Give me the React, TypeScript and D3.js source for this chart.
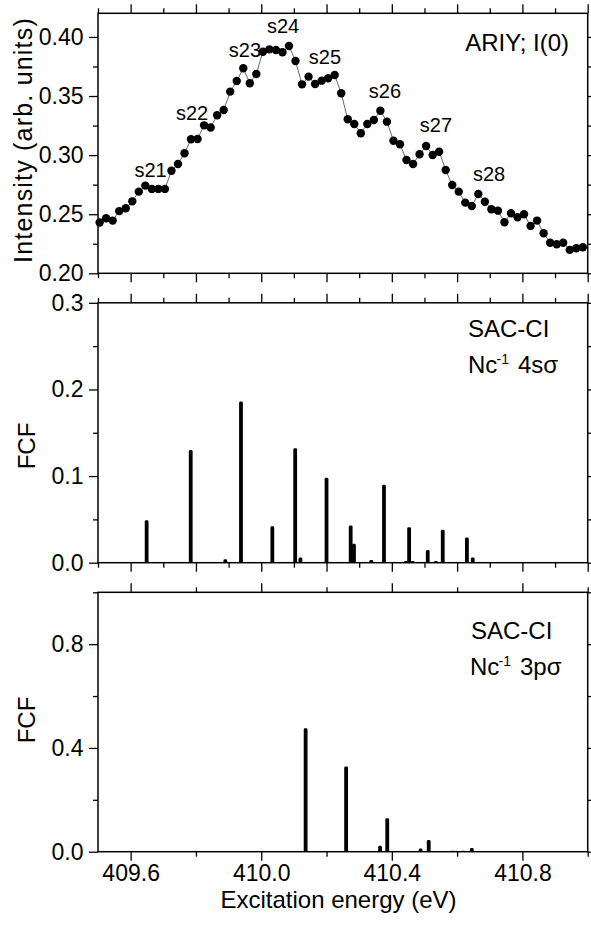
import React, { useEffect, useRef } from 'react';
import * as d3 from 'd3';

// ARIY; I(0) measured spectrum
const energies = [
  409.505, 409.525, 409.545, 409.565, 409.585, 409.605, 409.625, 409.645, 409.665, 409.685,
  409.705, 409.725, 409.745, 409.765, 409.785, 409.805, 409.825, 409.845, 409.865, 409.885,
  409.905, 409.925, 409.945, 409.965, 409.985, 410.005, 410.025, 410.045, 410.065, 410.085,
  410.105, 410.125, 410.145, 410.165, 410.185, 410.205, 410.225, 410.245, 410.265, 410.285,
  410.305, 410.325, 410.345, 410.365, 410.385, 410.405, 410.425, 410.445, 410.465, 410.485,
  410.505, 410.525, 410.545, 410.565, 410.585, 410.605, 410.625, 410.645, 410.665, 410.685,
  410.705, 410.725, 410.745, 410.765, 410.785, 410.805, 410.825, 410.845, 410.865, 410.885,
  410.905, 410.925, 410.945, 410.965, 410.985,
];
const intensity = [
  0.2430, 0.2466, 0.2446, 0.2526, 0.2550, 0.2609, 0.2691, 0.2742, 0.2714, 0.2714,
  0.2714, 0.2868, 0.2925, 0.3016, 0.3134, 0.3137, 0.3252, 0.3234, 0.3337, 0.3382,
  0.3537, 0.3627, 0.3735, 0.3608, 0.3686, 0.3875, 0.3895, 0.3890, 0.3870, 0.3923,
  0.3797, 0.3599, 0.3664, 0.3602, 0.3630, 0.3650, 0.3678, 0.3523, 0.3303, 0.3263,
  0.3185, 0.3263, 0.3297, 0.3376, 0.3283, 0.3122, 0.3092, 0.2959, 0.2925, 0.3007,
  0.3077, 0.3001, 0.3029, 0.2874, 0.2747, 0.2691, 0.2598, 0.2570, 0.2671, 0.2606,
  0.2542, 0.2530, 0.2432, 0.2508, 0.2474, 0.2500, 0.2401, 0.2446, 0.2339, 0.2259,
  0.2246, 0.2259, 0.2198, 0.2212, 0.2220,
];

// peak labels (anchor in data coords: energy of centre, intensity of baseline)
const peakNames = ['s21', 's22', 's23', 's24', 's25', 's26', 's27', 's28'];
const peakE = [409.661, 409.788, 409.950, 410.067, 410.195, 410.379, 410.535, 410.698];
const peakI = [0.2817, 0.3297, 0.3828, 0.4031, 0.3769, 0.3481, 0.3198, 0.2784];

// SAC-CI Nc-1 4s sigma
const e4s = [409.649, 409.784, 409.890, 409.938, 410.034, 410.104, 410.120, 410.200, 410.274, 410.284,
  410.337, 410.376, 410.443, 410.453, 410.464, 410.510, 410.535, 410.556, 410.630, 410.648];
const f4s = [0.049, 0.130, 0.004, 0.186, 0.042, 0.132, 0.006, 0.098, 0.043, 0.022,
  0.003, 0.090, 0.002, 0.041, 0.002, 0.0146, 0.002, 0.038, 0.029, 0.006];

// SAC-CI Nc-1 3p sigma
const e3p = [410.136, 410.260, 410.364, 410.386, 410.488, 410.513, 410.586, 410.619, 410.645, 410.714];
const f3p = [0.476, 0.328, 0.023, 0.129, 0.012, 0.045, 0.004, 0.004, 0.014, 0.003];

// ticks
const xMajorFine = [409.6, 409.8, 410.0, 410.2, 410.4, 410.6, 410.8, 411.0];
const xMinorFine = [409.5, 409.7, 409.9, 410.1, 410.3, 410.5, 410.7, 410.9];
const xMajorCoarse = [409.6, 410.0, 410.4, 410.8];
const xMinorCoarse = [409.8, 410.2, 410.6, 411.0];
const yTopMajor = [0.20, 0.25, 0.30, 0.35, 0.40];
const yTopMinor = [0.225, 0.275, 0.325, 0.375];
const yMidMajor = [0.0, 0.1, 0.2, 0.3];
const yMidMinor = [0.05, 0.15, 0.25];
const yBotMajor = [0.0, 0.4, 0.8];
const yBotMinor = [0.2, 0.6, 1.0];

const FONT = '"Liberation Sans", Arial, Helvetica, sans-serif';
const W = 591;
const H = 926;
const L = 98;
const R = 587.7;

const App = () => {
  const ref = useRef<SVGSVGElement>(null);

  useEffect(() => {
    const svg = d3.select(ref.current);
    svg.selectAll('*').remove();

    const x = d3.scaleLinear().domain([409.5, 411.0]).range([L, R]);

    const panels = [
      { top: 13.3, bottom: 273.3, dom: [0.2, 0.42], yMaj: yTopMajor, yMin: yTopMinor, fmt: '.2f', xMaj: xMajorFine, xMin: xMinorFine, xLab: false },
      { top: 302.8, bottom: 562.7, dom: [0, 0.3], yMaj: yMidMajor, yMin: yMidMinor, fmt: '.1f', xMaj: xMajorFine, xMin: xMinorFine, xLab: false },
      { top: 592.3, bottom: 851.7, dom: [0, 1.0], yMaj: yBotMajor, yMin: yBotMinor, fmt: '.1f', xMaj: xMajorCoarse, xMin: xMinorCoarse, xLab: true },
    ];

    const ys = panels.map(p => {
      const y = d3.scaleLinear().domain(p.dom).range([p.bottom, p.top]);
      const g = svg.append('g');
      const put = (axis: any, tr: string) => {
        const a = g.append('g').attr('transform', tr).call(axis);
        a.select('.domain').remove();
        a.selectAll('line').attr('stroke', '#000').attr('stroke-width', 1.3);
        a.selectAll('text').attr('font-family', FONT).attr('font-size', 23).attr('fill', '#000');
        return a;
      };
      const none = () => '';
      put(d3.axisBottom(x).tickValues(p.xMaj).tickSize(9).tickPadding(4)
        .tickFormat(p.xLab ? (d: any) => d3.format('.1f')(d) : none), `translate(0,${p.bottom})`);
      put(d3.axisBottom(x).tickValues(p.xMin).tickSize(5).tickFormat(none), `translate(0,${p.bottom})`);
      put(d3.axisTop(x).tickValues(p.xMaj).tickSize(9).tickFormat(none), `translate(0,${p.top})`);
      put(d3.axisTop(x).tickValues(p.xMin).tickSize(5).tickFormat(none), `translate(0,${p.top})`);
      put(d3.axisLeft(y).tickValues(p.yMaj).tickSize(9).tickPadding(5.5)
        .tickFormat((d: any) => d3.format(p.fmt)(d)), `translate(${L},0)`);
      put(d3.axisLeft(y).tickValues(p.yMin).tickSize(5).tickFormat(none), `translate(${L},0)`);
      put(d3.axisRight(y).tickValues(p.yMaj).tickSize(9).tickFormat(none), `translate(${R},0)`);
      put(d3.axisRight(y).tickValues(p.yMin).tickSize(5).tickFormat(none), `translate(${R},0)`);
      g.append('rect')
        .attr('x', L).attr('y', p.top)
        .attr('width', R - L).attr('height', p.bottom - p.top)
        .attr('fill', 'none').attr('stroke', '#000').attr('stroke-width', 1.5);
      return y;
    });

    // top panel: thin line + dots
    const pts = energies.map((e, i) => [e, intensity[i]] as [number, number]);
    const line = d3.line<[number, number]>().x(d => x(d[0])).y(d => ys[0](d[1]));
    svg.append('path').attr('d', line(pts)).attr('fill', 'none')
      .attr('stroke', '#000').attr('stroke-width', 0.6);
    svg.append('g').selectAll('circle').data(pts).join('circle')
      .attr('cx', d => x(d[0])).attr('cy', d => ys[0](d[1])).attr('r', 4.2).attr('fill', '#000');

    svg.append('g').selectAll('text').data(peakNames).join('text')
      .attr('x', (d, i) => x(peakE[i])).attr('y', (d, i) => ys[0](peakI[i]))
      .attr('text-anchor', 'middle').attr('font-family', FONT).attr('font-size', 20)
      .text(d => d);

    // stick spectra
    const sticks = (es: number[], fs: number[], y: any) => {
      svg.append('g').selectAll('rect').data(es).join('rect')
        .attr('x', d => x(d) - 1.9).attr('width', 3.8)
        .attr('y', (d, i) => y(fs[i])).attr('height', (d, i) => y(0) - y(fs[i]))
        .attr('rx', 1.4).attr('fill', '#000');
    };
    sticks(e4s, f4s, ys[1]);
    sticks(e3p, f3p, ys[2]);

    const txt = (s: string, tx: number, ty: number, size: number, anchor = 'start') =>
      svg.append('text').attr('x', tx).attr('y', ty).attr('font-family', FONT)
        .attr('font-size', size).attr('text-anchor', anchor).text(s);

    txt('ARIY; I(0)', 569, 50.7, 24, 'end');
    txt('SAC-CI', 468, 336.7, 24);
    txt('Nc', 468, 373.3, 24);
    txt('-1', 496.5, 364, 14);
    txt('4s\u03c3', 518, 373.3, 24);
    txt('SAC-CI', 471, 639.3, 24);
    txt('Nc', 470, 675, 24);
    txt('-1', 498.5, 665.7, 14);
    txt('3p\u03c3', 520, 675, 24);

    const ylab = (s: string, cx: number, cy: number, size: number, ls = 0) =>
      svg.append('text').attr('transform', `translate(${cx},${cy}) rotate(-90)`)
        .attr('text-anchor', 'middle').attr('font-family', FONT).attr('font-size', size)
        .attr('letter-spacing', ls).attr('dy', '0.35em').text(s);
    ylab('Intensity (arb. units)', 23, 140, 25, 1.2);
    ylab('FCF', 27, 446, 24);
    ylab('FCF', 27, 720, 24);

    txt('Excitation energy (eV)', 338.5, 908, 24, 'middle');
  }, []);

  return (
    <svg ref={ref} width={W} height={H}
      style={{ position: 'absolute', left: 0, top: 0, background: '#fff' }} />
  );
};

export default App;
